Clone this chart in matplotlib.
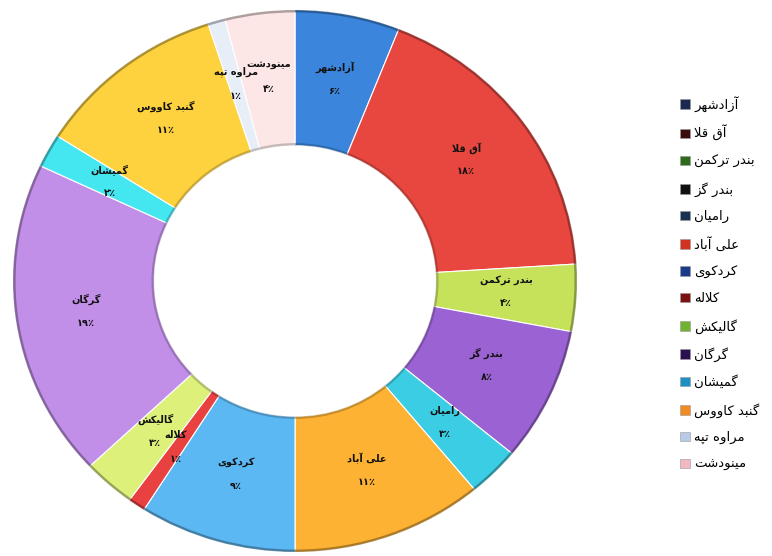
import matplotlib
matplotlib.use("Agg")
import matplotlib.pyplot as plt
from matplotlib.patches import Patch
from matplotlib.colors import to_rgb
import numpy as np

plt.rcParams['font.family'] = ['DejaVu Sans']

# ---------------- data ----------------
cities = ["آزادشهر", "آق قلا", "بندر ترکمن", "بندر گز", "رامیان", "علی آباد",
          "کردکوی", "کلاله", "گالیکش", "گرگان", "گمیشان", "گنبد کاووس",
          "مراوه تپه", "مینودشت"]
percents = [6, 18, 4, 8, 3, 11, 9, 1, 3, 19, 2, 11, 1, 4]
wedge_colors = ["#3b86dc", "#e8473f", "#c5e25a", "#9a62d2", "#3acde3", "#fdb233",
                "#5cb8f2", "#e94040", "#ddf07a", "#c18ee8", "#44e6f0", "#fed23e",
                "#e8eef8", "#fde6e6"]
legend_colors = ["#1b2850", "#3a0c0c", "#2c6a1c", "#111111", "#1a3050", "#d23222",
                 "#1b3a8a", "#7a1212", "#72b232", "#2a1050", "#2090c2", "#f08a22",
                 "#b8cce8", "#f0b8c0"]

# ---------------- Persian shaping (matplotlib has no bidi/shaping) ----------------
FORMS = {
    'ا': (0xFE8D, 0xFE8E), 'آ': (0xFE81, 0xFE82), 'د': (0xFEA9, 0xFEAA),
    'ر': (0xFEAD, 0xFEAE), 'ز': (0xFEAF, 0xFEB0), 'و': (0xFEED, 0xFEEE),
    'ب': (0xFE8F, 0xFE90, 0xFE91, 0xFE92), 'پ': (0xFB56, 0xFB57, 0xFB58, 0xFB59),
    'ت': (0xFE95, 0xFE96, 0xFE97, 0xFE98), 'س': (0xFEB1, 0xFEB2, 0xFEB3, 0xFEB4),
    'ش': (0xFEB5, 0xFEB6, 0xFEB7, 0xFEB8), 'ع': (0xFEC9, 0xFECA, 0xFECB, 0xFECC),
    'ق': (0xFED5, 0xFED6, 0xFED7, 0xFED8), 'ک': (0xFB8E, 0xFB8F, 0xFB90, 0xFB91),
    'گ': (0xFB92, 0xFB93, 0xFB94, 0xFB95), 'ل': (0xFEDD, 0xFEDE, 0xFEDF, 0xFEE0),
    'م': (0xFEE1, 0xFEE2, 0xFEE3, 0xFEE4), 'ن': (0xFEE5, 0xFEE6, 0xFEE7, 0xFEE8),
    'ه': (0xFEE9, 0xFEEA, 0xFEEB, 0xFEEC), 'ی': (0xFBFC, 0xFBFD, 0xFBFE, 0xFBFF),
}
LAM_ALEF = {'ا': (0xFEFB, 0xFEFC), 'آ': (0xFEF5, 0xFEF6)}


def shape(s):
    ch = list(s)
    n = len(ch)
    res = []
    i = 0
    while i < n:
        c = ch[i]
        if c not in FORMS:
            res.append(c)
            i += 1
            continue
        prev = ch[i - 1] if i > 0 else None
        pc = prev is not None and prev in FORMS and len(FORMS[prev]) == 4
        if c == 'ل' and i + 1 < n and ch[i + 1] in LAM_ALEF:
            lig = LAM_ALEF[ch[i + 1]]
            res.append(chr(lig[1] if pc else lig[0]))
            i += 2
            continue
        f = FORMS[c]
        nxt = ch[i + 1] if i + 1 < n else None
        nc = len(f) == 4 and nxt is not None and nxt in FORMS
        if pc and nc:
            g = f[3]
        elif pc:
            g = f[1]
        elif nc:
            g = f[2]
        else:
            g = f[0]
        res.append(chr(g))
        i += 1
    return ''.join(reversed(res))


def fa_num(v):
    d = '۰۱۲۳۴۵۶۷۸۹'
    return ''.join(d[int(k)] for k in str(v)) + '٪'


def darker(c, f=0.6):
    r, g, b = to_rgb(c)
    return (r * f, g * f, b * f)


# ---------------- figure ----------------
fig = plt.figure(figsize=(7.72, 5.56), dpi=100)
ax = fig.add_axes([13 / 772, 1 - 552 / 556, 564 / 772, 542 / 556])

wedges, _ = ax.pie(percents, colors=wedge_colors, startangle=90, counterclock=False,
                   radius=1.0, wedgeprops=dict(width=0.5, edgecolor='white', linewidth=0.8))
# bevel-like darker rims on outer and inner edges
dark = [darker(c, 0.55) for c in wedge_colors]
ax.pie(percents, colors=dark, startangle=90, counterclock=False, radius=1.0,
       wedgeprops=dict(width=0.009, edgecolor='none', alpha=0.7))
ax.pie(percents, colors=dark, startangle=90, counterclock=False, radius=0.509,
       wedgeprops=dict(width=0.009, edgecolor='none', alpha=0.45))
ax.set_aspect('auto')
ax.set_xlim(-1, 1)
ax.set_ylim(-1, 1)
ax.axis('off')

# labels at middle of ring
for w, name, p in zip(wedges, cities, percents):
    ang = np.deg2rad((w.theta1 + w.theta2) / 2)
    r = 0.75
    x, y = r * np.cos(ang), r * np.sin(ang)
    ax.annotate(shape(name), (x, y), xytext=(0, 10), textcoords='offset points',
                ha='center', va='center', fontsize=7, fontweight='bold', color='#111111')
    ax.annotate(fa_num(p), (x, y), xytext=(0, -7), textcoords='offset points',
                ha='center', va='center', fontsize=7, fontweight='bold', color='#111111')

handles = [Patch(facecolor=c, edgecolor='#999999', linewidth=0.4) for c in legend_colors]
fig.legend(handles, [shape(c) for c in cities], loc='upper left',
           bbox_to_anchor=(668 / 772, 1 - 84 / 556), frameon=False, fontsize=9.5,
           handlelength=0.75, handleheight=0.75, handletextpad=0.35, labelspacing=1.03)

fig.savefig('out.png', dpi=100, facecolor='white')
